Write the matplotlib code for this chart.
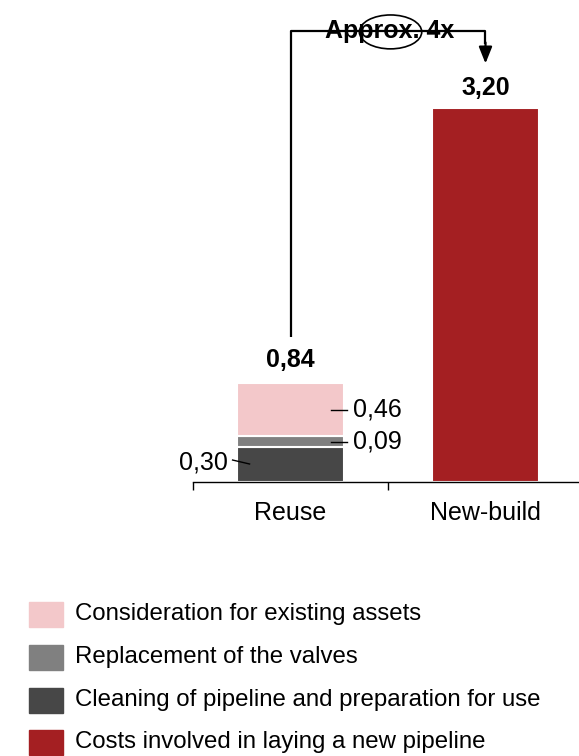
import matplotlib.pyplot as plt
from matplotlib.patches import Ellipse, Rectangle

plt.rcParams["font.family"] = ["Liberation Sans", "DejaVu Sans"]

# data
categories = ["Reuse", "New-build"]
cleaning = [0.30, 0.0]
valves = [0.09, 0.0]
assets = [0.46, 0.0]
new_pipe = [0.0, 3.20]
totals = ["0,84", "3,20"]
seg_labels = ["0,30", "0,09", "0,46"]
legend_labels = [
    "Consideration for existing assets",
    "Replacement of the valves",
    "Cleaning of pipeline and preparation for use",
    "Costs involved in laying a new pipeline",
]

c_assets = "#F3C8CA"
c_valves = "#808080"
c_clean = "#474747"
c_red = "#A41F22"

fig = plt.figure(figsize=(5.79, 7.56), dpi=100)
ax = fig.add_axes([193 / 579, 274 / 756, 390 / 579, 482 / 756])

x = [0, 1]
w = 0.55
b1 = cleaning
b2 = [cleaning[i] + valves[i] for i in range(2)]
ax.bar(x[0], cleaning[0], w, color=c_clean, edgecolor="white", linewidth=1.5)
ax.bar(x[0], valves[0], w, bottom=b1[0], color=c_valves, edgecolor="white", linewidth=1.5)
ax.bar(x[0], assets[0], w, bottom=b2[0], color=c_assets, edgecolor="white", linewidth=1.5)
ax.bar(x[1], new_pipe[1], w, color=c_red, edgecolor="white", linewidth=1.5)

ax.set_xlim(-0.5, 1.5)
ax.set_ylim(0, 4.123)

reuse_total = cleaning[0] + valves[0] + assets[0]
ax.text(0, reuse_total + 0.19, totals[0], ha="center", va="center",
        fontsize=18, fontweight="bold")
ax.text(1, new_pipe[1] + 0.17, totals[1], ha="center", va="center",
        fontsize=18, fontweight="bold")

# segment labels with leader lines
mid_assets = b2[0] + assets[0] / 2
mid_valves = b1[0] + valves[0] / 2
ax.plot([0.21, 0.29], [mid_assets, mid_assets], color="black", lw=1)
ax.text(0.318, mid_assets, seg_labels[2], ha="left", va="center", fontsize=18)
ax.plot([0.21, 0.29], [mid_valves, mid_valves], color="black", lw=1)
ax.text(0.318, mid_valves, seg_labels[1], ha="left", va="center", fontsize=18)
ax.plot([-0.297, -0.21], [0.188, 0.154], color="black", lw=1)
ax.text(-0.323, 0.171, seg_labels[0], ha="right", va="center", fontsize=18)

# bracket arrow
ax.plot([0, 0, 1, 1], [1.24, 3.86, 3.86, 3.75], color="black", lw=1.6,
        clip_on=False, solid_capstyle="butt")
ax.annotate("", xy=(1, 3.58), xytext=(1, 3.76),
            arrowprops=dict(arrowstyle="-|>,head_width=0.4,head_length=1.0",
                            color="black", lw=1.6, shrinkA=0, shrinkB=0))
ax.text(0.51, 3.855, "Approx. 4x", ha="center", va="center",
        fontsize=18, fontweight="bold")
ax.add_patch(Ellipse((0.513, 3.85), 0.32, 0.29, fill=False,
                     edgecolor="black", lw=1.2, clip_on=False))

# axes styling
for s in ["top", "right", "left"]:
    ax.spines[s].set_visible(False)
ax.spines["bottom"].set_linewidth(1)
ax.set_yticks([])
ax.set_xticks(x, categories, fontsize=18)
ax.tick_params(axis="x", which="major", length=0, pad=14)
ax.set_xticks([-0.5, 0.5, 1.5], minor=True)
ax.tick_params(axis="x", which="minor", length=6, width=1, direction="out")

# legend drawn manually
leg_colors = [c_assets, c_valves, c_clean, c_red]
row_y = [614, 657, 700, 742]
for col, lab, py in zip(leg_colors, legend_labels, row_y):
    fig.add_artist(Rectangle((29 / 579, (756 - py - 12.5) / 756), 34 / 579, 25 / 756,
                             transform=fig.transFigure, color=col))
    fig.text(75 / 579, (756 - py) / 756, lab, ha="left", va="center", fontsize=17.3)

fig.savefig("out.png", dpi=100)
